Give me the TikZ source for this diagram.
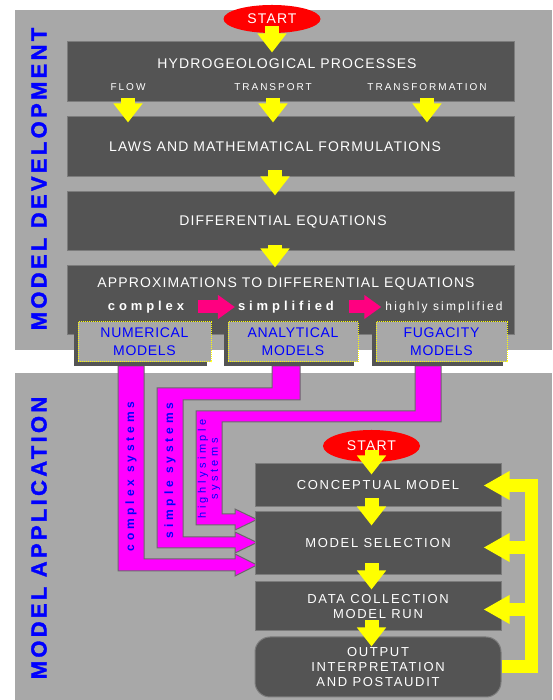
\documentclass[tikz,border=0pt]{standalone}
\usepackage{fontspec}
\setmainfont{Liberation Sans}
\newfontfamily\boxfont[LetterSpace=8]{Liberation Sans}
\newfontfamily\subfont[LetterSpace=20]{Liberation Sans}
\newfontfamily\wordfont[LetterSpace=30]{Liberation Sans}
\newfontfamily\hifont[LetterSpace=18]{Liberation Sans}
\newfontfamily\sidefont[LetterSpace=15,FakeBold=1.5]{Liberation Sans}
\newfontfamily\pipefont[LetterSpace=32]{Liberation Sans}
\newfontfamily\modfont[LetterSpace=5]{Liberation Sans}
\newfontfamily\lowfont[LetterSpace=13]{Liberation Sans}
\usetikzlibrary{arrows.meta,calc,shapes.geometric,shadows,positioning}

\definecolor{panelgray}{HTML}{A8A8A8}
\definecolor{boxgray}{HTML}{545454}
\definecolor{boxedge}{HTML}{7C7C7C}
\definecolor{pipemag}{HTML}{FF00FF}
\definecolor{pipeedge}{HTML}{6A6A6A}
\definecolor{hotpink}{HTML}{FF0080}
\definecolor{lblblue}{HTML}{0000FF}
\definecolor{ylw}{HTML}{FFFF00}
\definecolor{startred}{HTML}{FF0000}

\tikzset{
  darkbox/.style={fill=boxgray, draw=boxedge, line width=1pt, inner sep=0pt,
    minimum width=447, text=white, align=center,
    font=\lowfont\fontsize{13}{15}\selectfont},
  startnode/.style={ellipse, fill=startred, inner sep=0pt, minimum width=97,
    minimum height=28, text=white, font=\boxfont\fontsize{14}{16}\selectfont},
  boxtxt/.style={inner sep=0pt, text=white, font=\boxfont\fontsize{14}{16}\selectfont},
  subtxt/.style={inner sep=0pt, text=white, font=\subfont\fontsize{10}{12}\selectfont},
  wordtxt/.style={inner sep=0pt, text=white, font=\wordfont\bfseries\fontsize{13}{15}\selectfont},
  modelbox/.style={fill=panelgray, draw=ylw, densely dotted, line width=1pt,
    minimum height=40, inner sep=0pt, align=center, text=lblblue,
    font=\modfont\fontsize{14}{18}\selectfont,
    drop shadow={shadow xshift=-4pt, shadow yshift=-4pt, fill=boxgray, opacity=1}},
  sidelbl/.style={rotate=90, inner sep=0pt, text=lblblue,
    font=\sidefont\bfseries\fontsize{22}{24}\selectfont},
  pipetxt/.style={rotate=90, inner sep=0pt, text=lblblue, align=center},
  pipe/.style={fill=pipemag, draw=pipeedge, line width=1pt},
  yarr/.style={draw=ylw, line width=14pt, -{Triangle[width=28pt,length=19pt]}},
  fbarr/.style={draw=ylw, line width=13pt, line join=miter, -{Triangle[width=27pt,length=26pt]}},
  parr/.style={draw=hotpink, line width=13pt, -{Triangle[width=23pt,length=17pt]}}
}

\begin{document}
\begin{tikzpicture}[x=1pt,y=1pt]
  \useasboundingbox (0,0) rectangle (552,700);
  \fill[panelgray] (15,350) rectangle (552,690);
  \fill[panelgray] (15,0) rectangle (552,327);

  \node[sidelbl] (devlbl) at (39,521) {MODEL DEVELOPMENT};
  \node[sidelbl] (applbl) at (39,162) {MODEL APPLICATION};

  % model development
  \node[darkbox, minimum height=60] (hydro) at (290.5,628) {};
  \node[darkbox, minimum height=60] (laws) at (290.5,553) {};
  \node[darkbox, minimum height=59] (diff) at (290.5,478.5) {};
  \node[darkbox, minimum height=69] (approx) at (290.5,399.5) {};
  \node[startnode] (start) at (272,681) {START};

  \node[boxtxt] (hydrotxt) at (287,636) {HYDROGEOLOGICAL PROCESSES};
  \node[subtxt] (flow) at (128,613) {FLOW};
  \node[subtxt] (transp) at (273,613) {TRANSPORT};
  \node[subtxt] (transf) at (427,613) {TRANSFORMATION};
  \node[boxtxt] (lawstxt) at (275,553) {LAWS AND MATHEMATICAL FORMULATIONS};
  \node[boxtxt] (difftxt) at (283,478) {DIFFERENTIAL EQUATIONS};
  \node[boxtxt] (approxtxt) at (286,416) {APPROXIMATIONS TO DIFFERENTIAL EQUATIONS};
  \node[wordtxt] (cplx) at (146,393) {complex};
  \node[wordtxt] (simp) at (286,393) {simplified};
  \node[inner sep=0pt, text=white, font=\hifont\fontsize{12}{14}\selectfont] (hisimp) at (444,393) {highly simplified};

  \draw[yarr] ($(start.south)+(0,7)$) -- ($(start.south |- hydro.north)+(0,-11)$);
  \draw[yarr] ($(flow |- hydro.south)+(0,4)$) -- ($(flow |- laws.north)+(0,-6)$);
  \draw[yarr] ($(transp |- hydro.south)+(0,4)$) -- ($(transp |- laws.north)+(0,-6)$);
  \draw[yarr] ($(transf |- hydro.south)+(0,4)$) -- ($(transf |- laws.north)+(0,-6)$);
  \draw[yarr] ($(lawstxt |- laws.south)+(0,7)$) -- ($(lawstxt |- diff.north)+(0,-4)$);
  \draw[yarr] ($(lawstxt |- diff.south)+(0,6)$) -- ($(lawstxt |- approx.north)+(0,-2)$);
  \draw[parr] ($(cplx.east)+(14,0)$) -- ($(simp.west)+(-3,0)$);
  \draw[parr] ($(simp.east)+(15,0)$) -- ($(hisimp.west)+(-4,0)$);

  % pipes to model selection
  \draw[pipe] (118,334) -- (144,334) -- (144,141) -- (235,141) -- (235,146) -- (257,135)
    -- (235,124) -- (235,129) -- (118,129) -- cycle;
  \draw[pipe] (272,334) -- (300,334) -- (300,300) -- (183,300) -- (183,163) -- (235,163)
    -- (235,168) -- (257,157.5) -- (235,147) -- (235,152) -- (157,152) -- (157,312)
    -- (272,312) -- cycle;
  \draw[pipe] (415,334) -- (441,334) -- (441,278) -- (222,278) -- (222,186) -- (235,186)
    -- (235,191) -- (257,180.5) -- (235,170) -- (235,175) -- (196,175) -- (196,289)
    -- (415,289) -- cycle;
  \node[pipetxt, font=\pipefont\bfseries\fontsize{12}{14}\selectfont] (cplxsys) at (131,223.5) {complex systems};
  \node[pipetxt, font=\pipefont\bfseries\fontsize{12}{14}\selectfont] (simpsys) at (170,229.5) {simple systems};
  \node[pipetxt, font=\pipefont\fontsize{11}{12}\selectfont] (hisys) at (209,231) {highlysimple\\systems};

  \node[modelbox, minimum width=133] (num) at (144.5,358) {NUMERICAL\\MODELS};
  \node[modelbox, minimum width=130] (ana) at (293,358) {ANALYTICAL\\MODELS};
  \node[modelbox, minimum width=131] (fug) at (441.5,358) {FUGACITY\\MODELS};

  % model application
  \node[darkbox, minimum width=246, minimum height=43] (concept) at (378,214.5) {CONCEPTUAL MODEL};
  \node[darkbox, minimum width=246, minimum height=63] (select) at (378,156.5) {MODEL SELECTION};
  \node[darkbox, minimum width=246, minimum height=49] (data) at (378,93.5) {DATA COLLECTION\\MODEL RUN};
  \node[darkbox, minimum width=246, minimum height=60, rounded corners=15pt] (output) at (378,33)
    {OUTPUT\\INTERPRETATION\\AND POSTAUDIT};
  \node[startnode, minimum height=32] (start2) at (371.5,254) {START};

  \draw[yarr] ($(start2.south)+(0,12)$) -- ($(start2.south |- concept.north)+(0,-11)$);
  \draw[yarr] ($(start2 |- concept.south)+(0,9)$) -- ($(start2 |- select.north)+(0,-14)$);
  \draw[yarr] ($(start2 |- select.south)+(0,12)$) -- ($(start2 |- data.north)+(0,-8)$);
  \draw[yarr] ($(start2 |- data.south)+(0,11)$) -- ($(start2 |- output.north)+(0,-10)$);

  \draw[fbarr] (output.east) -| ($(concept.east)+(30,0)$) -- ($(concept.east)+(-18,0)$);
  \draw[fbarr] ($(select.east)+(30,-4)$) -- ($(select.east)+(-18,-4)$);
  \draw[fbarr] ($(data.east)+(30,-3)$) -- ($(data.east)+(-18,-3)$);
\end{tikzpicture}
\end{document}
